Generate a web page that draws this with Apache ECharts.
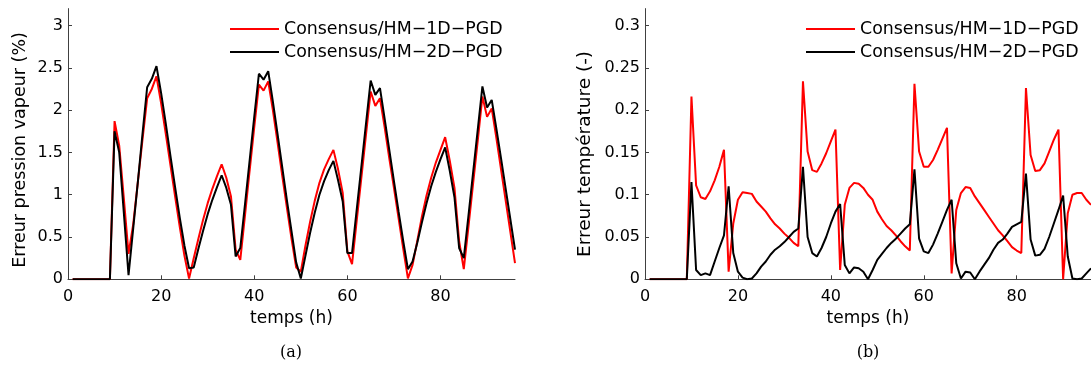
<!DOCTYPE html>
<html>
<head>
<meta charset="utf-8">
<script src="https://cdn.jsdelivr.net/npm/echarts@6/dist/echarts.min.js"></script>
<style>
html,body{margin:0;padding:0;background:#fff;}
#chart{width:1091px;height:367px;}
</style>
</head>
<body>
<div id="chart"></div>
<script>
// ---- data (h = 1..96) ----
const seriesNames = ['Consensus/HM\u22121D\u2212PGD', 'Consensus/HM\u22122D\u2212PGD'];
const xTicks = [0, 20, 40, 60, 80];
const yTicksLeft = [0, 0.5, 1, 1.5, 2, 2.5, 3];
const yTicksRight = [0, 0.05, 0.1, 0.15, 0.2, 0.25, 0.3];

const vapRed = [0,0,0,0,0,0,0,0,0,
  1.87,1.58,0.95,0.30,0.65,1.15,1.65,2.14,2.25,2.40,
  2.08,1.72,1.35,0.98,0.62,0.28,0.01,0.25,0.48,0.70,
  0.90,1.07,1.22,1.36,1.20,0.98,0.35,0.23,0.75,1.28,
  1.80,2.30,2.23,2.34,2.00,1.62,1.23,0.85,0.48,0.14,
  0.09,0.40,0.68,0.93,1.14,1.30,1.42,1.53,1.30,1.02,
  0.33,0.18,0.69,1.20,1.71,2.22,2.05,2.14,1.80,1.43,
  1.08,0.72,0.36,0.01,0.17,0.45,0.74,0.99,1.20,1.38,
  1.53,1.68,1.40,1.08,0.45,0.12,0.62,1.13,1.64,2.16,
  1.92,2.02,1.67,1.30,0.93,0.56,0.19];

const vapBlack = [0,0,0,0,0,0,0,0,0,
  1.75,1.50,0.78,0.05,0.60,1.15,1.72,2.27,2.37,2.52,
  2.20,1.84,1.46,1.09,0.73,0.40,0.13,0.14,0.36,0.57,
  0.77,0.94,1.09,1.23,1.08,0.88,0.27,0.37,0.88,1.40,
  1.92,2.43,2.36,2.46,2.10,1.72,1.33,0.94,0.57,0.20,
  0.01,0.28,0.55,0.79,1.00,1.16,1.29,1.40,1.17,0.92,
  0.31,0.31,0.82,1.33,1.84,2.35,2.18,2.26,1.90,1.53,
  1.16,0.80,0.45,0.12,0.21,0.43,0.67,0.90,1.10,1.27,
  1.42,1.56,1.28,0.97,0.37,0.25,0.75,1.26,1.77,2.28,
  2.03,2.12,1.78,1.43,1.07,0.71,0.35];

const tempRed = [0,0,0,0,0,0,0,0,0,
  0.216,0.111,0.097,0.095,0.104,0.117,0.133,0.153,0.009,0.066,
  0.094,0.103,0.102,0.101,0.092,0.086,0.080,0.072,0.065,0.060,
  0.054,0.049,0.043,0.039,0.234,0.151,0.129,0.127,0.137,0.149,
  0.163,0.177,0.011,0.088,0.108,0.114,0.113,0.108,0.100,0.094,
  0.080,0.071,0.063,0.058,0.052,0.045,0.039,0.034,0.231,0.151,
  0.133,0.133,0.141,0.153,0.166,0.179,0.007,0.082,0.102,0.109,
  0.108,0.098,0.090,0.082,0.074,0.066,0.058,0.052,0.045,0.038,
  0.034,0.031,0.226,0.147,0.128,0.129,0.137,0.151,0.165,0.177,
  0.000,0.078,0.100,0.102,0.102,0.094,0.088];

const tempBlack = [0,0,0,0,0,0,0,0,0,
  0.115,0.011,0.005,0.007,0.005,0.021,0.037,0.052,0.110,0.031,
  0.009,0.002,0.000,0.001,0.007,0.015,0.021,0.029,0.035,0.039,
  0.044,0.050,0.056,0.060,0.133,0.050,0.031,0.027,0.037,0.050,
  0.066,0.080,0.089,0.017,0.007,0.014,0.013,0.009,0.000,0.011,
  0.023,0.030,0.037,0.043,0.048,0.054,0.060,0.065,0.130,0.048,
  0.033,0.031,0.041,0.054,0.068,0.082,0.094,0.019,0.001,0.009,
  0.008,0.000,0.009,0.017,0.025,0.035,0.043,0.047,0.054,0.062,
  0.065,0.068,0.125,0.047,0.028,0.029,0.036,0.050,0.066,0.082,
  0.099,0.027,0.001,0.000,0.001,0.007,0.013];

const hours = vapRed.map((_, i) => i + 1);
const pairs = arr => arr.map((v, i) => [hours[i], v]);

// ---- styling ----
const FONT = 'DejaVu Sans';
const axisColor = '#404040';

function xAxisCfg(gi) {
  return {
    type: 'value', gridIndex: gi, min: 0, max: 96, interval: 20,
    name: 'temps (h)', nameLocation: 'middle', nameGap: 31,
    nameTextStyle: { fontFamily: FONT, fontSize: 17, color: '#000' },
    axisLine: { show: true, lineStyle: { color: axisColor, width: 1 } },
    axisTick: { show: true, inside: true, length: 4, customValues: xTicks, lineStyle: { color: axisColor } },
    axisLabel: { customValues: xTicks, margin: 10, fontFamily: FONT, fontSize: 16, color: '#000' },
    splitLine: { show: false }
  };
}
function yAxisCfg(gi, max, interval, ticks, name, gap, fs, shift) {
  return {
    type: 'value', gridIndex: gi, min: 0, max: max, interval: interval,
    name: name, nameLocation: 'middle', nameGap: gap,
    nameTextStyle: { fontFamily: FONT, fontSize: fs, color: '#000', padding: [0, shift, 0, 0] },
    axisLine: { show: true, lineStyle: { color: axisColor, width: 1 } },
    axisTick: { show: true, inside: true, length: 4, customValues: ticks, lineStyle: { color: axisColor } },
    axisLabel: { customValues: ticks, margin: 5, fontFamily: FONT, fontSize: 16, color: '#000' },
    splitLine: { show: false }
  };
}
function lineSeries(name, color, data, xi, yi) {
  return {
    type: 'line', name: name, xAxisIndex: xi, yAxisIndex: yi,
    data: data, showSymbol: false, symbol: 'none', color: color,
    lineStyle: { color: color, width: 2 }, animation: false
  };
}
function legendCfg(left) {
  return {
    data: seriesNames, orient: 'vertical', left: left, top: 15,
    icon: 'rect', itemWidth: 49, itemHeight: 2, itemGap: 5,
    selectedMode: false,
    textStyle: { fontFamily: FONT, fontSize: 17.4, color: '#000', lineHeight: 18 }
  };
}

const chart = echarts.init(document.getElementById('chart'), null, { renderer: 'canvas' });
chart.setOption({
  animation: false,
  backgroundColor: '#fff',
  grid: [
    { left: 68, top: 8.6, width: 447, height: 270.7 },
    { left: 645, top: 8.6, width: 447, height: 270.7 }
  ],
  xAxis: [xAxisCfg(0), xAxisCfg(1)],
  yAxis: [
    yAxisCfg(0, 3.2, 0.1, yTicksLeft, 'Erreur pression vapeur (%)', 39, 17.5, 12),
    yAxisCfg(1, 0.32, 0.01, yTicksRight, 'Erreur temp\u00e9rature (-)', 50, 18.5, 20)
  ],
  legend: [legendCfg(225), legendCfg(801)],
  series: [
    lineSeries(seriesNames[0], '#ff0000', pairs(vapRed), 0, 0),
    lineSeries(seriesNames[1], '#000000', pairs(vapBlack), 0, 0),
    lineSeries(seriesNames[0], '#ff0000', pairs(tempRed), 1, 1),
    lineSeries(seriesNames[1], '#000000', pairs(tempBlack), 1, 1)
  ],
  graphic: [
    { type: 'text', x: 291, y: 353, style: { text: '(a)', align: 'center', verticalAlign: 'middle', fontFamily: 'DejaVu Serif', fontSize: 16, fill: '#000' } },
    { type: 'text', x: 868, y: 353, style: { text: '(b)', align: 'center', verticalAlign: 'middle', fontFamily: 'DejaVu Serif', fontSize: 16, fill: '#000' } }
  ]
});
</script>
</body>
</html>
